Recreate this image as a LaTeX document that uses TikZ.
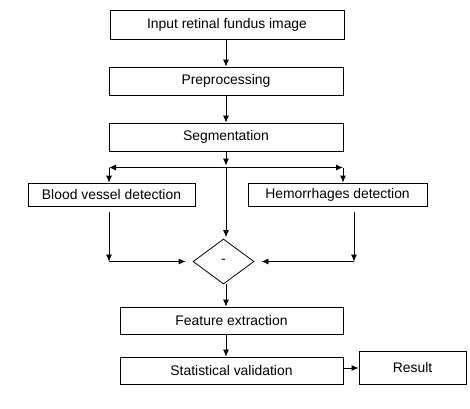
\documentclass[tikz,border=0pt]{standalone}
\usepackage{fontspec}
\setmainfont{Liberation Sans}
\usetikzlibrary{shapes.geometric,arrows.meta}
\begin{document}
\begin{tikzpicture}[x=1bp,y=-1bp,
  box/.style={draw,line width=0.8bp,rectangle,inner sep=0pt,font=\fontsize{13.9bp}{16bp}\selectfont},
  dia/.style={draw,line width=0.8bp,diamond,inner sep=0pt,minimum width=61bp,minimum height=45bp,font=\fontsize{13.9bp}{16bp}\selectfont},
  arr/.style={line width=0.8bp,-{Latex[length=7bp,width=6bp]}},
  ln/.style={line width=0.8bp}]
\useasboundingbox (0,0) rectangle (470,408);
\node[box,minimum width=234bp,minimum height=29bp] (inp) at (227,24.5) {Input retinal fundus image};
\node[box,minimum width=234bp,minimum height=28bp] (pre) at (226,81) {Preprocessing};
\node[box,minimum width=234bp,minimum height=28bp] (seg) at (226,137) {Segmentation};
\node[box,minimum width=167bp,minimum height=23bp] (bv) at (111.5,194.5) {Blood vessel detection};
\node[box,minimum width=179bp,minimum height=23bp] (hd) at (337.5,194.5) {Hemorrhages detection};
\node[dia] (d) at (223.5,261.5) {-};
\node[box,minimum width=223bp,minimum height=27bp] (fe) at (231.5,320.5) {Feature extraction};
\node[box,minimum width=223bp,minimum height=27bp] (sv) at (231.5,370.5) {Statistical validation};
\node[box,minimum width=107bp,minimum height=33bp] (res) at (412.5,367.5) {Result};
\coordinate (j) at (226,167.5);
\coordinate (jl) at (109,167.5);
\coordinate (jr) at (343,167.5);
\coordinate (bl0) at (109,212);
\coordinate (bl1) at (109,261.5);
\coordinate (br0) at (354,212);
\coordinate (br1) at (354,261.5);
\draw[arr] (inp.south -| 226,0) -- (pre.north -| 226,0);
\draw[arr] (pre.south -| 226,0) -- (seg.north -| 226,0);
\draw[arr,shorten >=2bp] (seg.south -| j) -- (j);
\draw[arr] (j) -- (jl);
\draw[arr] (j) -- (jr);
\draw[arr] (jl) -- (bv.north -| jl);
\draw[arr] (jr) -- (hd.north -| jr);
\draw[arr,shorten >=1.5bp] (j) -- (j |- d.north);
\draw[arr] (bl0) -- (bl1);
\draw[arr,shorten >=7bp] (bl1) -- (d.west);
\draw[arr] (br0) -- (br1);
\draw[arr,shorten >=7bp] (br1) -- (d.east);
\draw[arr] (j |- d.south) -- (j |- fe.north);
\draw[arr] (j |- fe.south) -- (j |- sv.north);
\draw[arr] (sv.east |- 0,368) -- (res.west |- 0,368);
\end{tikzpicture}
\end{document}
